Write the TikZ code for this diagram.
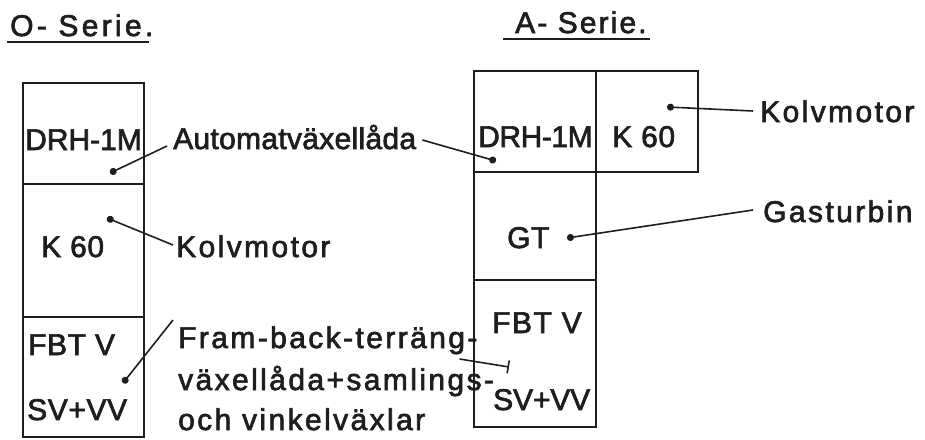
\documentclass[tikz,border=0pt]{standalone}
\usepackage{fontspec}
\setmainfont{Liberation Sans}[FakeBold=2.2]
\usetikzlibrary{arrows.meta,calc}
\definecolor{ink}{HTML}{1E1E1E}

\begin{document}
\begin{tikzpicture}[x=1pt,y=-1pt,
  cell/.style={draw=ink, line width=2pt, inner sep=0pt, outer sep=0pt},
  boxtext/.style={text=ink, inner sep=0pt, anchor=base west,
    font=\fontsize{30}{36}\selectfont\addfontfeature{LetterSpace=2}},
  label/.style={text=ink, inner sep=0pt, anchor=base west,
    font=\fontsize{30}{36}\selectfont\addfontfeature{LetterSpace=8}},
  tightlabel/.style={label,
    font=\fontsize{30}{36}\selectfont\addfontfeature{LetterSpace=1}},
  heading/.style={text=ink, inner sep=0pt, anchor=base west,
    font=\fontsize{30}{36}\selectfont\addfontfeature{LetterSpace=7}},
  rule/.style={draw=ink, line width=2pt},
  pointer/.style={draw=ink, line width=1.6pt, -{Circle[length=7pt]}},
  barpointer/.style={draw=ink, line width=1.6pt, -{Bar[width=13pt,line width=1.6pt]}}
]
\useasboundingbox (0,0) rectangle (925,439);

% ---- O-Serie column ----
\node[heading, font=\fontsize{30}{36}\selectfont\addfontfeature{LetterSpace=11}] (hO) at (10,36) {O- Serie.};
\draw[rule] ($(hO.base west)+(-3,6)$) coordinate (uO1) -- ($(hO.base east)+(-5,6)$) coordinate (uO2);

\node[cell, minimum width=121pt, minimum height=101pt] (L1) at (83.5,133.5) {};
\node[cell, minimum width=121pt, minimum height=133pt] (L2) at (83.5,250.5) {};
\node[cell, minimum width=121pt, minimum height=120pt] (L3) at (83.5,377) {};

\node[boxtext, font=\fontsize{30}{36}\selectfont] (tL1) at (25,150) {DRH-1M};
\node[boxtext] (tL2) at (41,257) {K 60};
\node[boxtext] (tL3a) at (28,355) {FBT V};
\node[boxtext] (tL3b) at (27,420) {SV+VV};

% ---- A-Serie column ----
\node[heading] (hA) at (515,33) {A- Serie.};
\draw[rule] ($(hA.base west)+(-12,6)$) coordinate (uA1) -- ($(hA.base east)+(3,6)$) coordinate (uA2);

\node[cell, minimum width=122pt, minimum height=101pt] (R1) at (535,121.5) {};
\node[cell, minimum width=102pt, minimum height=101pt] (R2) at (647,121.5) {};
\node[cell, minimum width=122pt, minimum height=108pt] (R3) at (535,226) {};
\node[cell, minimum width=122pt, minimum height=147pt] (R4) at (535,353.5) {};

\node[boxtext, font=\fontsize{30}{36}\selectfont\addfontfeature{LetterSpace=-1.5}] (tR1) at (478,147) {DRH-1M};
\node[boxtext] (tR2) at (612,147) {K 60};
\node[boxtext] (tR3) at (507,248) {GT};
\node[boxtext, font=\fontsize{30}{36}\selectfont\addfontfeature{LetterSpace=5}] (tR4a) at (492,333) {FBT V};
\node[boxtext, font=\fontsize{30}{36}\selectfont\addfontfeature{LetterSpace=-0.5}] (tR4b) at (493,410) {SV+VV};

% ---- labels ----
\node[tightlabel] (auto) at (173,149) {Automatväxellåda};
\node[label] (kolvL) at (176,257) {Kolvmotor};
\node[label] (fb1) at (178,348) {Fram-back-terräng-};
\node[label] (fb2) at (178,390) {växellåda+samlings-};
\node[label] (fb3) at (178,430) {och vinkelväxlar};
\node[label] (kolvR) at (760,122) {Kolvmotor};
\node[label] (gas) at (763,222) {Gasturbin};

% ---- pointer ends ----
\coordinate (pL1) at (110,173);
\coordinate (pL2) at (107,218);
\coordinate (pL3) at (123,383);
\coordinate (pR1) at (496,161);
\coordinate (pR2) at (667,107);
\coordinate (pR3) at (567,238);
\coordinate (pR4) at (509,367);

% ---- connectors ----
\draw[pointer] ($(auto.base west)+(-6,-3)$) -- (pL1);
\draw[pointer] ($(auto.base east)+(6,-9)$) -- (pR1);
\draw[pointer] ($(kolvL.base west)+(-3,-12)$) -- (pL2);
\draw[pointer] ($(fb1.base west)+(-5,-28)$) -- (pL3);
\draw[barpointer] ($(fb1.base east)+(-18,11)$) -- (pR4);
\draw[pointer] ($(kolvR.base west)+(-7,-11)$) -- (pR2);
\draw[pointer] ($(gas.base west)+(-10,-12)$) -- (pR3);
\end{tikzpicture}
\end{document}
